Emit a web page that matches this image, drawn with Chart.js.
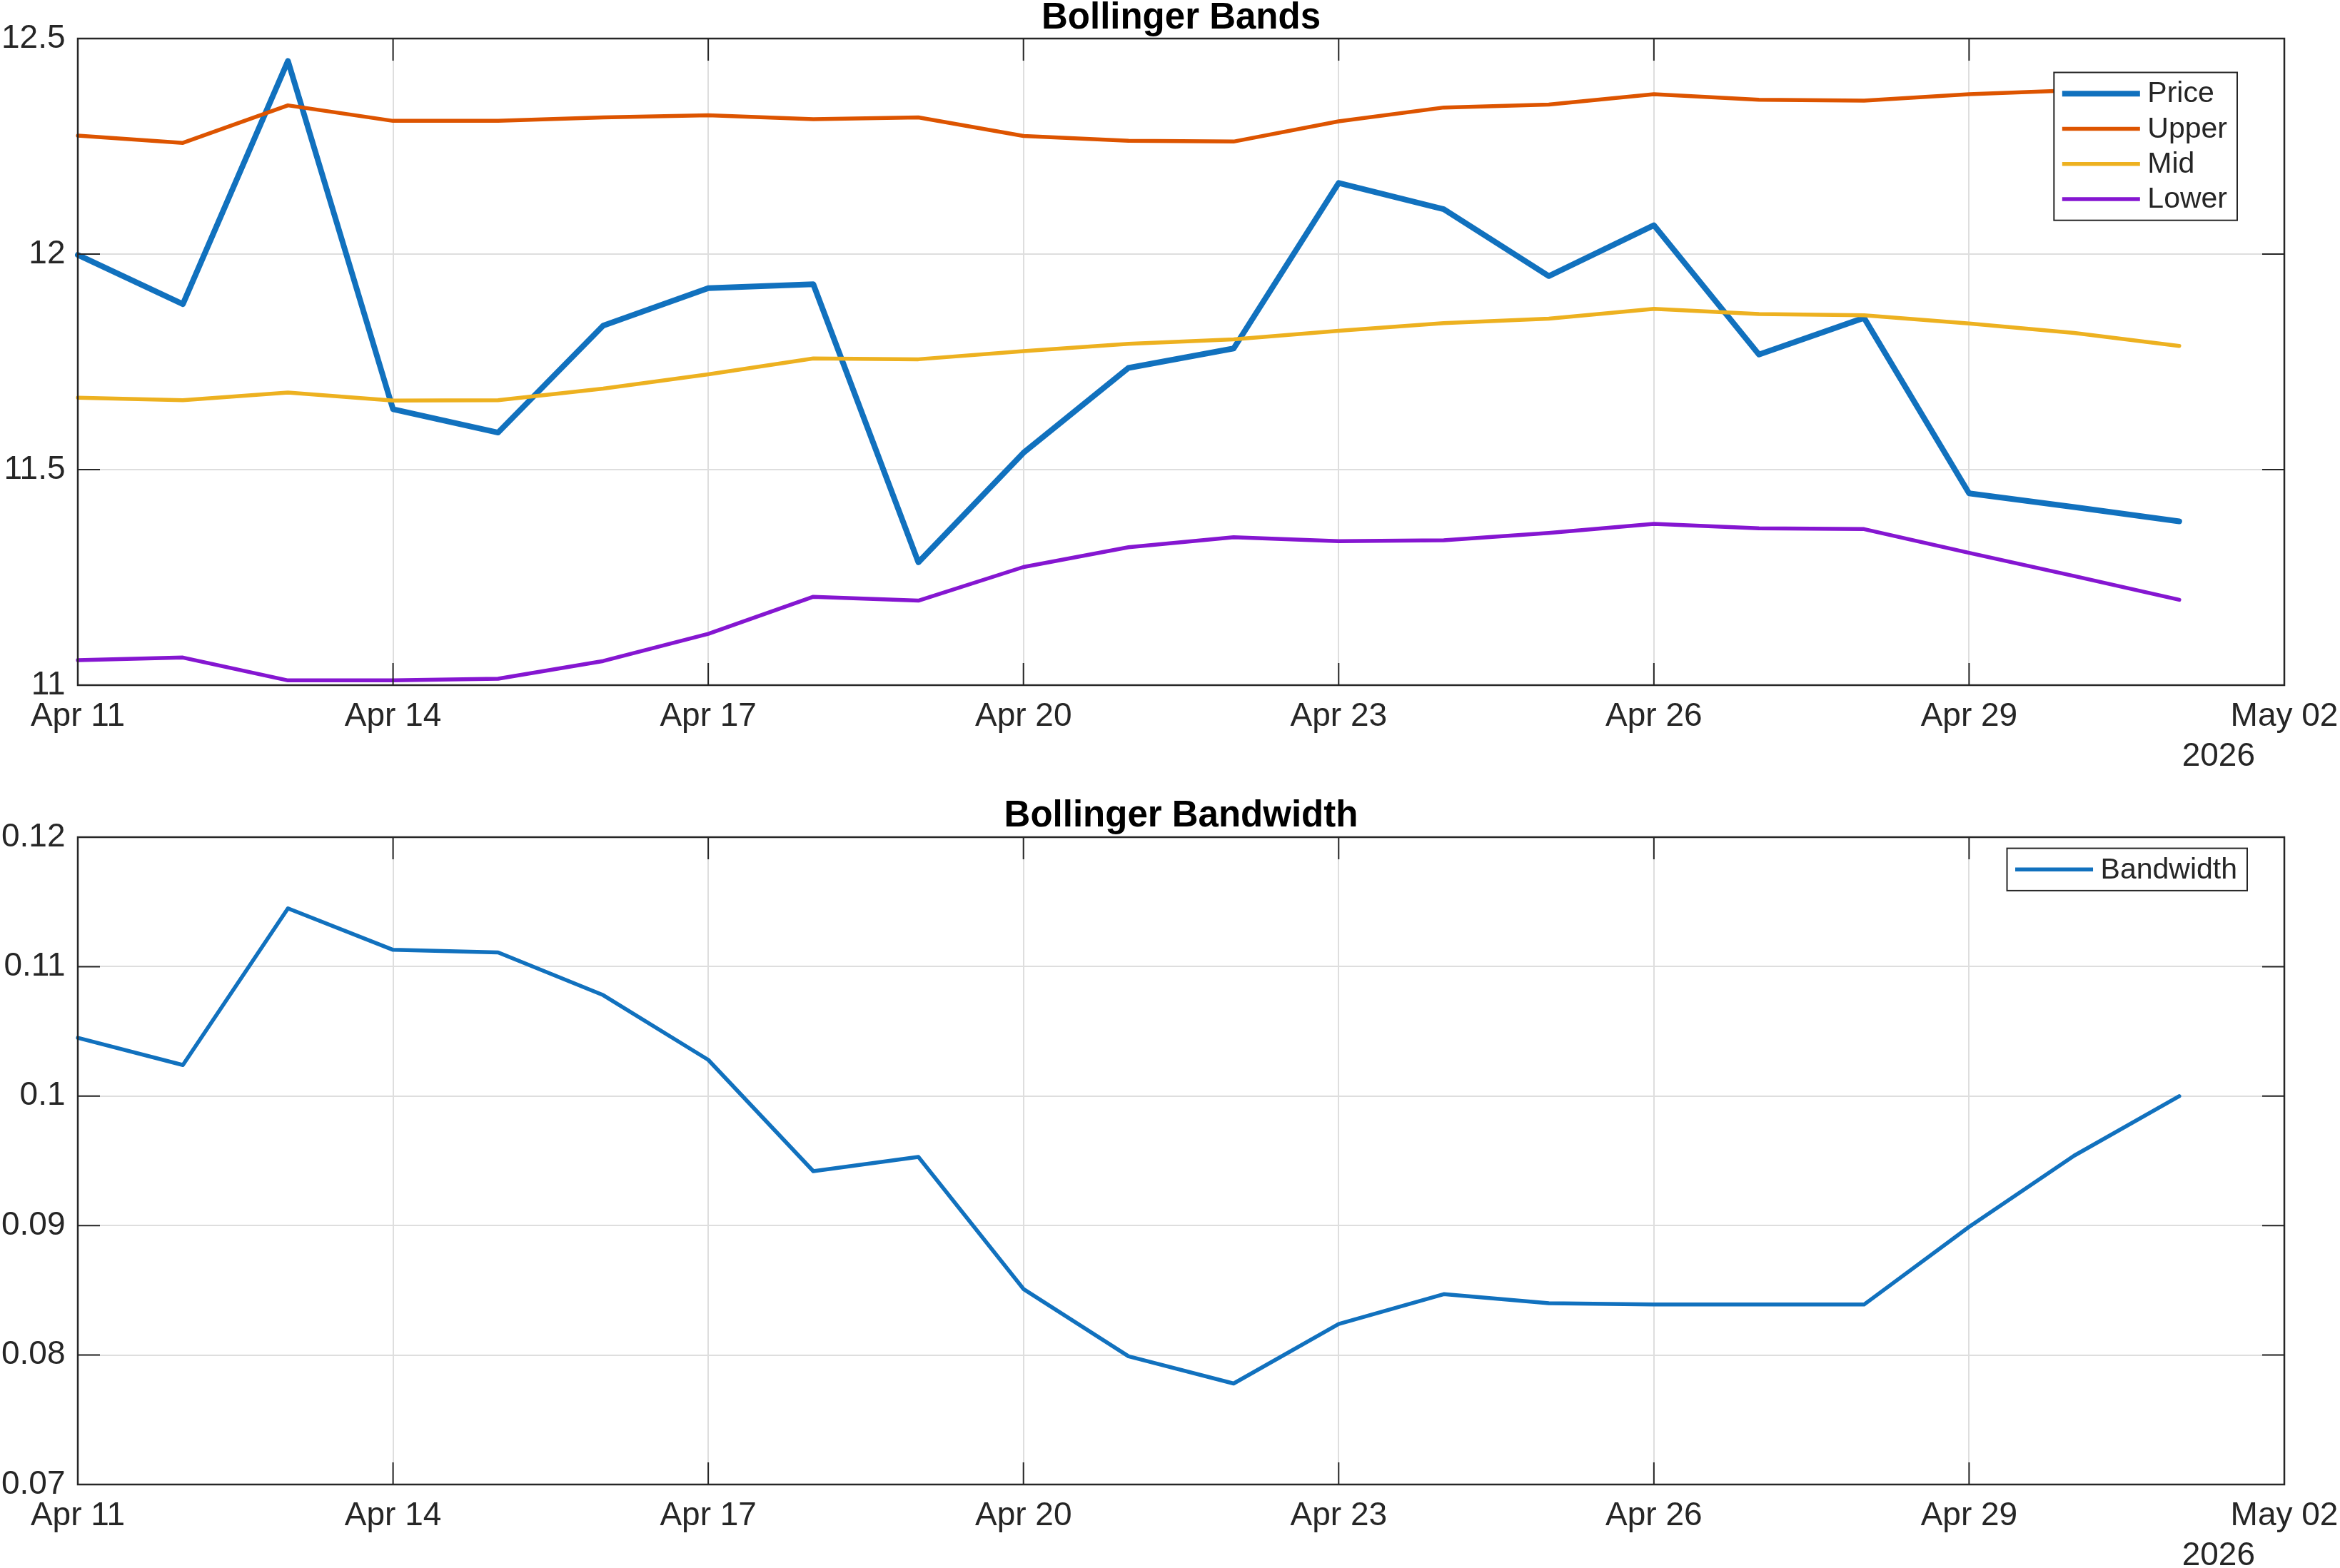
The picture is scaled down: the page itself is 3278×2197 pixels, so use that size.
<!DOCTYPE html>
<html>
<head>
<meta charset="utf-8">
<title>Bollinger Bands</title>
<script src="https://cdn.jsdelivr.net/npm/chart.js@4.4.1/dist/chart.umd.min.js"></script>
<style>
  html, body { margin: 0; padding: 0; background: #fff; overflow: hidden; }
  #topBox { position: absolute; left: 0; top: 0; width: 3278px; height: 1100px; }
  #botBox { position: absolute; left: 0; top: 1100px; width: 3278px; height: 1097px; }
</style>
</head>
<body>
<div id="topBox"><canvas id="bandsChart"></canvas></div>
<div id="botBox"><canvas id="widthChart"></canvas></div>
<script>
// one entry per day, last one only carries the end tick
var dates = ['Apr 11','Apr 12','Apr 13','Apr 14','Apr 15','Apr 16','Apr 17','Apr 18','Apr 19','Apr 20','Apr 21',
             'Apr 22','Apr 23','Apr 24','Apr 25','Apr 26','Apr 27','Apr 28','Apr 29','Apr 30','May 01','May 02'];
var yearLabel = '2026';

var price = [11.998, 11.884, 12.448, 11.640, 11.586, 11.834, 11.921, 11.930, 11.285, 11.539, 11.736,
             11.781, 12.165, 12.104, 11.949, 12.067, 11.767, 11.852, 11.445, 11.413, 11.380];
var upper = [12.275, 12.258, 12.345, 12.309, 12.309, 12.317, 12.322, 12.313, 12.317, 12.274, 12.263,
             12.261, 12.308, 12.340, 12.347, 12.371, 12.358, 12.356, 12.371, 12.380, 12.376];
var mid   = [11.667, 11.661, 11.679, 11.660, 11.661, 11.688, 11.721, 11.758, 11.756, 11.775, 11.792,
             11.802, 11.822, 11.840, 11.850, 11.873, 11.861, 11.858, 11.839, 11.817, 11.787];
var lower = [11.058, 11.064, 11.011, 11.011, 11.015, 11.056, 11.119, 11.205, 11.196, 11.274, 11.320,
             11.343, 11.334, 11.336, 11.353, 11.374, 11.364, 11.362, 11.307, 11.253, 11.198];
var bandwidth = [0.1045, 0.1024, 0.1145, 0.1113, 0.1111, 0.1078, 0.1028, 0.0942, 0.0953, 0.0851, 0.0799,
                 0.0778, 0.0824, 0.0847, 0.0840, 0.0839, 0.0839, 0.0839, 0.0899, 0.0954, 0.1000];

var FONT = "'Liberation Sans', Arial, Helvetica, sans-serif";
var TEXT = '#262626';
var AXIS = '#262626';
var GRID = '#dedede';
var TICK_LEN = 31;

// matlab style box: full frame, inward ticks on all sides, boxed legend, year under last tick
var matlabFrame = {
  id: 'matlabFrame',
  afterDraw: function(chart, args, opts){
    var ctx = chart.ctx;
    var a = chart.chartArea;
    var xs = chart.scales.x, ys = chart.scales.y;

    ctx.save();
    ctx.strokeStyle = AXIS;
    ctx.lineWidth = 2;
    ctx.beginPath();
    for(var i = 0; i < xs.ticks.length; i++){
      var px = xs.getPixelForValue(xs.ticks[i].value);
      ctx.moveTo(px, a.bottom); ctx.lineTo(px, a.bottom - TICK_LEN);
      ctx.moveTo(px, a.top); ctx.lineTo(px, a.top + TICK_LEN);
    }
    for(var j = 0; j < ys.ticks.length; j++){
      var py = ys.getPixelForValue(ys.ticks[j].value);
      ctx.moveTo(a.left, py); ctx.lineTo(a.left + TICK_LEN, py);
      ctx.moveTo(a.right, py); ctx.lineTo(a.right - TICK_LEN, py);
    }
    ctx.stroke();
    ctx.lineWidth = 2.5;
    ctx.strokeRect(a.left, a.top, a.right - a.left, a.bottom - a.top);

    // year under the axis
    ctx.fillStyle = TEXT;
    ctx.font = '46px ' + FONT;
    ctx.textAlign = 'right';
    ctx.textBaseline = 'middle';
    ctx.fillText(yearLabel, a.right - 41, a.bottom + 100);

    // legend
    var sets = chart.data.datasets;
    ctx.font = '41px ' + FONT;
    var textW = 0;
    for(var k = 0; k < sets.length; k++) textW = Math.max(textW, ctx.measureText(sets[k].label).width);
    var rowH = 49.3;
    var boxW = 11.5 + 109 + 10.5 + textW + 14;
    var boxH = sets.length * rowH + 10;
    var bx = a.right - opts.right - boxW;
    var by = a.top + opts.top;
    ctx.fillStyle = '#fff';
    ctx.fillRect(bx, by, boxW, boxH);
    ctx.lineWidth = 2;
    ctx.strokeStyle = AXIS;
    ctx.strokeRect(bx, by, boxW, boxH);
    ctx.textAlign = 'left';
    for(var r = 0; r < sets.length; r++){
      var cy = by + 5 + rowH * (r + 0.5);
      ctx.strokeStyle = sets[r].borderColor;
      ctx.lineWidth = sets[r].borderWidth;
      ctx.beginPath();
      ctx.moveTo(bx + 11.5, cy);
      ctx.lineTo(bx + 120.5, cy);
      ctx.stroke();
      ctx.fillStyle = TEXT;
      ctx.fillText(sets[r].label, bx + 131, cy + 1);
    }
    ctx.restore();
  }
};

function lineSet(label, vals, colour, width, order){
  return {
    label: label, data: vals,
    borderColor: colour, backgroundColor: colour,
    borderWidth: width, pointRadius: 0, tension: 0,
    borderJoinStyle: 'round', borderCapStyle: 'round',
    fill: false, order: order
  };
}

function buildOptions(cfg){
  return {
    responsive: true, maintainAspectRatio: false, animation: false,
    layout: { padding: { left: 0, right: 78, top: 0, bottom: 0 } },
    scales: {
      x: {
        type: 'category', offset: false,
        afterBuildTicks: function(scale){
          scale.ticks = scale.ticks.filter(function(t){ return t.value % 3 === 0 });
        },
        afterFit: function(scale){ scale.height = cfg.xHeight; scale.paddingLeft = 0; scale.paddingRight = 0; },
        ticks: { autoSkip: false, maxRotation: 0, padding: 17, color: TEXT, font: { family: FONT, size: 46 } },
        grid: { color: GRID, lineWidth: 2, drawTicks: false },
        border: { display: false }
      },
      y: {
        min: cfg.yMin, max: cfg.yMax,
        afterFit: function(scale){ scale.width = 109 },
        afterBuildTicks: function(scale){
          var t = [];
          for(var v = cfg.yMin; v <= cfg.yMax + 1e-9; v += cfg.yStep) t.push({ value: Math.round(v * 1000) / 1000 });
          scale.ticks = t;
        },
        ticks: {
          padding: 17.5, color: TEXT, font: { family: FONT, size: 46 },
          callback: function(v){ return String(Math.round(v * 1000) / 1000) }
        },
        grid: { color: GRID, lineWidth: 2, drawTicks: false },
        border: { display: false }
      }
    },
    plugins: {
      legend: { display: false },
      tooltip: { enabled: false },
      title: {
        display: true, text: cfg.title, color: '#000', fullSize: false,
        font: { family: FONT, size: 51, weight: 'bold', lineHeight: 1 },
        padding: cfg.titlePad
      },
      matlabFrame: cfg.legendPos
    }
  };
}

document.addEventListener('DOMContentLoaded', function(){
  new Chart(document.getElementById('bandsChart'), {
    type: 'line',
    data: {
      labels: dates,
      datasets: [
        lineSet('Price', price, 'rgb(17,113,190)', 8, 4),
        lineSet('Upper', upper, 'rgb(221,84,0)', 5.5, 3),
        lineSet('Mid', mid, 'rgb(237,177,32)', 5.5, 2),
        lineSet('Lower', lower, 'rgb(133,22,209)', 5.5, 1)
      ]
    },
    options: buildOptions({
      title: 'Bollinger Bands', titlePad: { top: 0, bottom: 3 },
      xHeight: 140, yMin: 11, yMax: 12.5, yStep: 0.5,
      legendPos: { right: 66, top: 47.5 }
    }),
    plugins: [matlabFrame]
  });

  new Chart(document.getElementById('widthChart'), {
    type: 'line',
    data: {
      labels: dates,
      datasets: [ lineSet('Bandwidth', bandwidth, 'rgb(17,113,190)', 5.5, 1) ]
    },
    options: buildOptions({
      title: 'Bollinger Bandwidth', titlePad: { top: 18, bottom: 4 },
      xHeight: 117, yMin: 0.07, yMax: 0.12, yStep: 0.01,
      legendPos: { right: 52, top: 15.6 }
    }),
    plugins: [matlabFrame]
  });
});
</script>
</body>
</html>
